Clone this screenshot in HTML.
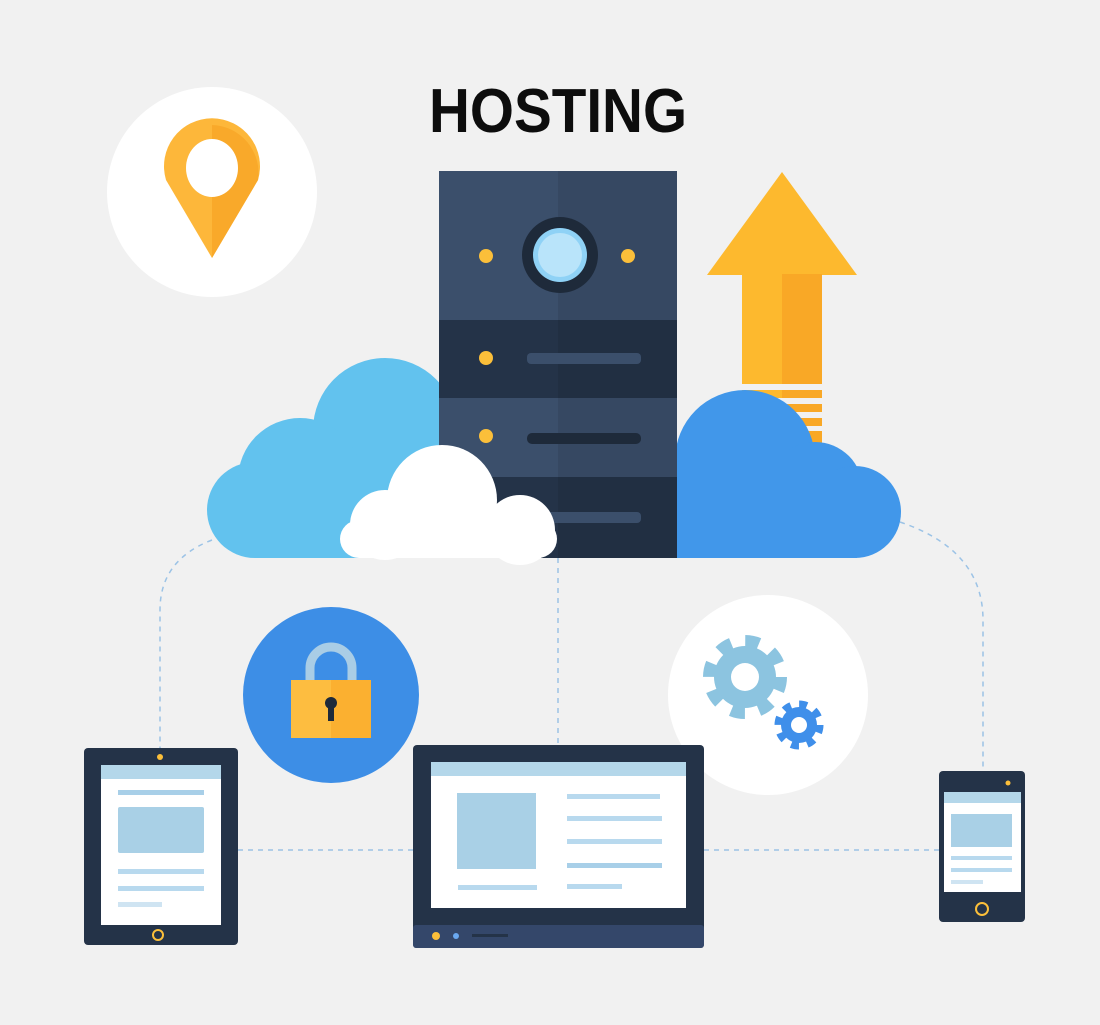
<!DOCTYPE html>
<html><head><meta charset="utf-8"><style>html,body{margin:0;padding:0;background:#f1f1f1}svg{display:block}</style></head>
<body>
<svg width="1100" height="1025" viewBox="0 0 1100 1025" xmlns="http://www.w3.org/2000/svg">
<rect width="1100" height="1025" fill="#f1f1f1"/>
<!-- dashed connectors -->
<g fill="none" stroke="#9cc3e6" stroke-width="1.5" stroke-dasharray="5,5">
<path d="M212,540 Q160,560 160,610 L160,748"/>
<path d="M238,850 L413,850"/>
<path d="M704,850 L939,850"/>
<path d="M558,558 L558,745"/>
<path d="M900,522 Q983,550 983,620 L983,771"/>
</g>
<!-- title -->
<text x="558" y="132" text-anchor="middle" font-family="Liberation Sans, sans-serif" font-size="62" font-weight="bold" fill="#0d0d0d" textLength="258" lengthAdjust="spacingAndGlyphs">HOSTING</text>
<!-- pin circle -->
<circle cx="212" cy="192" r="105" fill="#fff"/>
<path d="M212,258 L166,180 A48,48 0 1 1 258,180 Z" fill="#fdb73a"/>
<path d="M212,258 L212,125 A48,48 0 0 1 258,180 Z" fill="#f9a92a"/>
<ellipse cx="212" cy="168" rx="26" ry="29" fill="#fff"/>
<!-- arrow -->
<polygon points="782,172 707,275 857,275" fill="#fdb92e"/>
<rect x="742" y="274" width="80" height="170" fill="#fdb92e"/>
<rect x="782" y="274" width="40" height="170" fill="#f9a826"/>
<g fill="#f1f1f1"><rect x="742" y="384" width="80" height="6"/><rect x="742" y="398" width="80" height="6"/><rect x="742" y="412" width="80" height="6"/><rect x="742" y="426" width="80" height="5"/></g>
<!-- left cloud -->
<g fill="#62c2ee">
<circle cx="385" cy="430" r="72"/>
<circle cx="300" cy="480" r="62"/>
<circle cx="255" cy="510" r="48"/>
<rect x="255" y="470" width="190" height="88"/>
</g>
<!-- right cloud -->
<g fill="#4197ea">
<circle cx="745" cy="460" r="70"/>
<circle cx="815" cy="490" r="48"/>
<circle cx="855" cy="512" r="46"/>
<rect x="677" y="470" width="180" height="88"/>
</g>
<!-- server -->
<rect x="439" y="171" width="238" height="387" fill="#3b4f6b"/>
<rect x="439" y="320" width="238" height="78" fill="#243348"/>
<rect x="439" y="477" width="238" height="81" fill="#243348"/>
<rect x="558" y="171" width="119" height="387" fill="#000" opacity="0.08"/>
<circle cx="560" cy="255" r="38" fill="#1e2a3a"/>
<circle cx="560" cy="255" r="27" fill="#8fd2f6"/>
<circle cx="560" cy="255" r="22" fill="#b9e4fa"/>
<circle cx="486" cy="256" r="7" fill="#fbbf3a"/>
<circle cx="628" cy="256" r="7" fill="#fbbf3a"/>
<circle cx="486" cy="358" r="7" fill="#fbbf3a"/>
<circle cx="486" cy="436" r="7" fill="#fbbf3a"/>
<rect x="527" y="353" width="114" height="11" rx="4" fill="#3b4f6b"/>
<rect x="527" y="433" width="114" height="11" rx="5" fill="#1e2a3a"/>
<rect x="527" y="512" width="114" height="11" rx="4" fill="#3b4f6b"/>
<!-- white cloud -->
<g fill="#fff">
<circle cx="442" cy="500" r="55"/>
<circle cx="385" cy="525" r="35"/>
<circle cx="520" cy="530" r="35"/>
<rect x="340" y="520" width="217" height="38" rx="19"/>
</g>
<!-- lock circle -->
<circle cx="331" cy="695" r="88" fill="#3d8ee6"/>
<path d="M310,682 L310,668 A21,21 0 0 1 352,668 L352,682" fill="none" stroke="#a9cde6" stroke-width="9"/>
<rect x="291" y="680" width="80" height="58" fill="#fdbd40"/>
<rect x="331" y="680" width="40" height="58" fill="#fbb030"/>
<circle cx="331" cy="703" r="6" fill="#1e2a3a"/>
<rect x="328" y="703" width="6" height="18" fill="#1e2a3a"/>
<!-- gear circle -->
<circle cx="768" cy="695" r="100" fill="#fff"/>
<circle cx="745" cy="677" r="31" fill="#8cc4e0"/>
<circle cx="745" cy="677" r="36" fill="none" stroke="#8cc4e0" stroke-width="12" stroke-dasharray="14,14.27"/>
<circle cx="745" cy="677" r="14" fill="#fff"/>
<circle cx="799" cy="725" r="18" fill="#3f8fea"/>
<circle cx="799" cy="725" r="21" fill="none" stroke="#3f8fea" stroke-width="7" stroke-dasharray="8,8.49"/>
<circle cx="799" cy="725" r="8" fill="#fff"/>
<!-- tablet -->
<rect x="84" y="748" width="154" height="197" rx="4" fill="#243348"/>
<rect x="101" y="765" width="120" height="160" fill="#fff"/>
<rect x="101" y="765" width="120" height="14" fill="#b4d7ea"/>
<circle cx="160" cy="757" r="3" fill="#fbbf3a"/>
<circle cx="158" cy="935" r="5" fill="none" stroke="#fbbf3a" stroke-width="2"/>
<rect x="118" y="790" width="86" height="5" fill="#a8cfe8"/>
<rect x="118" y="807" width="86" height="46" rx="2" fill="#a9d0e6"/>
<rect x="118" y="869" width="86" height="5" fill="#b8d9ee"/>
<rect x="118" y="886" width="86" height="5" fill="#b8d9ee"/>
<rect x="118" y="902" width="44" height="5" fill="#cfe4f2"/>
<!-- monitor -->
<rect x="413" y="745" width="291" height="203" rx="4" fill="#243348"/>
<rect x="413" y="925" width="291" height="23" rx="3" fill="#34476a"/>
<rect x="431" y="762" width="255" height="146" fill="#fff"/>
<rect x="431" y="762" width="255" height="14" fill="#b4d7ea"/>
<rect x="457" y="793" width="79" height="76" fill="#a9d0e6"/>
<rect x="567" y="794" width="93" height="5" fill="#b8d9ee"/>
<rect x="567" y="816" width="95" height="5" fill="#b8d9ee"/>
<rect x="567" y="839" width="95" height="5" fill="#b8d9ee"/>
<rect x="567" y="863" width="95" height="5" fill="#a8cfe8"/>
<rect x="567" y="884" width="55" height="5" fill="#b8d9ee"/>
<rect x="458" y="885" width="79" height="5" fill="#b8d9ee"/>
<circle cx="436" cy="936" r="4" fill="#fbbf3a"/>
<circle cx="456" cy="936" r="3" fill="#6aa8f0"/>
<rect x="472" y="934" width="36" height="3" fill="#243348"/>
<!-- phone -->
<rect x="939" y="771" width="86" height="151" rx="4" fill="#243348"/>
<rect x="944" y="792" width="77" height="100" fill="#fff"/>
<rect x="944" y="792" width="77" height="11" fill="#b4d7ea"/>
<rect x="951" y="814" width="61" height="33" fill="#a9d0e6"/>
<rect x="951" y="856" width="61" height="4" fill="#b8d9ee"/>
<rect x="951" y="868" width="61" height="4" fill="#b8d9ee"/>
<rect x="951" y="880" width="32" height="4" fill="#cfe4f2"/>
<circle cx="1008" cy="783" r="2.5" fill="#fbbf3a"/>
<circle cx="982" cy="909" r="6" fill="none" stroke="#fbbf3a" stroke-width="2"/>
</svg>
</body></html>
